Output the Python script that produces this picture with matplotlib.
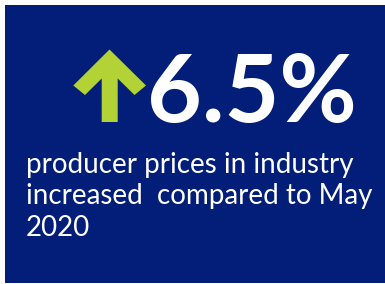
import matplotlib
matplotlib.use('Agg')
import matplotlib.pyplot as plt
from matplotlib.patches import Rectangle, Polygon

# card content
value_label = '6.5%'
desc_lines = ['producer prices in industry',
              'increased  compared to May',
              '2020']

navy = '#021e78'
green = '#b3d235'

fig = plt.figure(figsize=(3.85, 2.84), dpi=100)
ax = fig.add_axes([0, 0, 1, 1])
ax.set_xlim(0, 385)
ax.set_ylim(284, 0)
ax.axis('off')

# background card
ax.add_patch(Rectangle((5, 5), 380, 278, color=navy, lw=0))

# up arrow icon
arrow = [(109.5, 49.5), (146, 85.5), (134.5, 95), (117.7, 78.5), (117.7, 122),
         (101.7, 122), (101.7, 78.5), (85, 95), (73.3, 85.5)]
ax.add_patch(Polygon(arrow, closed=True, color=green, lw=0))

ax.text(147, 122, value_label, color='white', fontsize=68, fontweight='bold',
        family='Lato', ha='left', va='baseline')

baselines = [173, 204, 236]
for line, y in zip(desc_lines, baselines):
    ax.text(26, y, line, color='white', fontsize=20, family='Lato',
            ha='left', va='baseline')

fig.savefig('out.png', dpi=100)
